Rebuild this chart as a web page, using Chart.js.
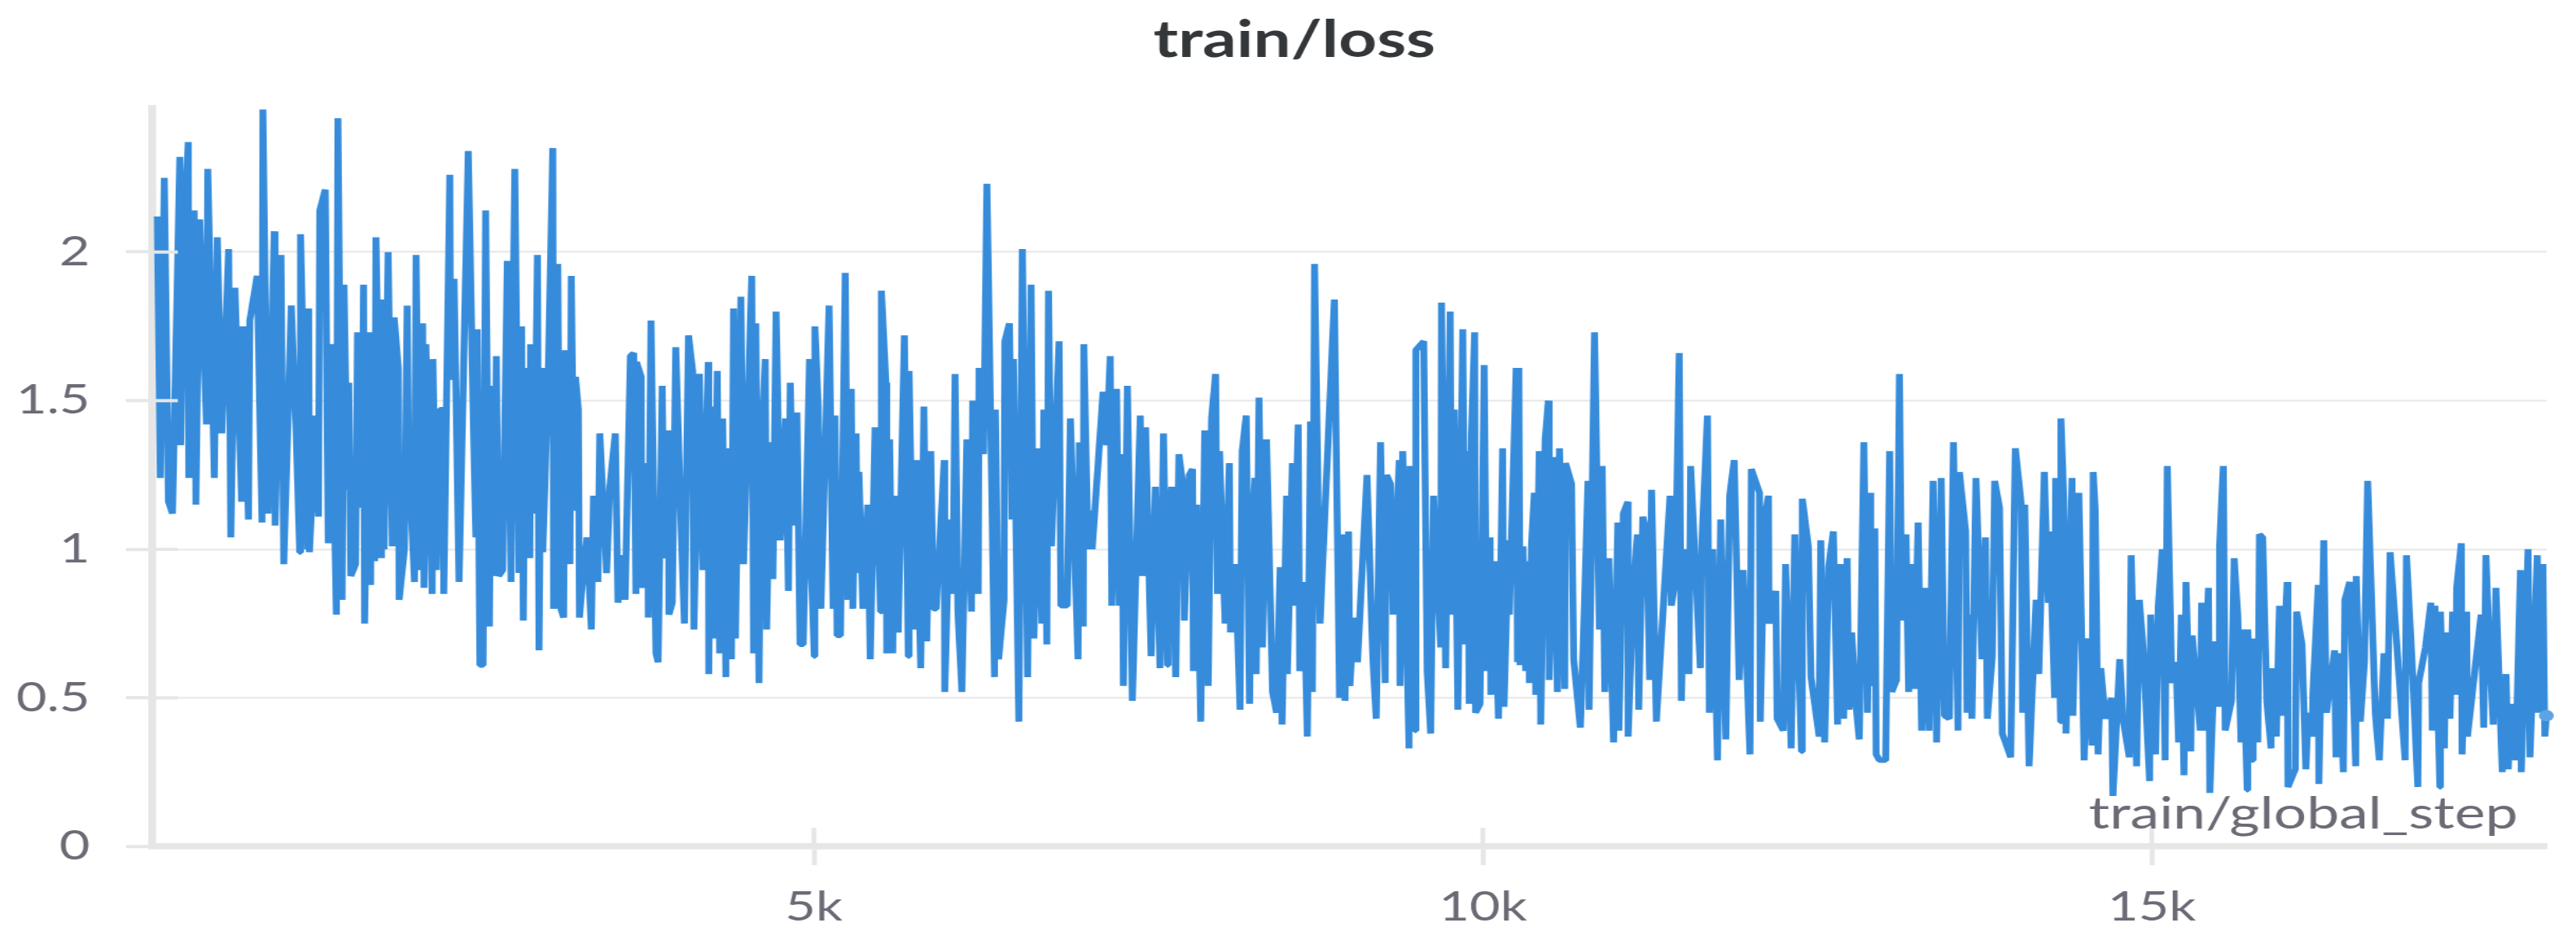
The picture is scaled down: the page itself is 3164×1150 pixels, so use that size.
<!DOCTYPE html>
<html>
<head>
<meta charset="utf-8">
<title>train/loss</title>
<script src="https://cdn.jsdelivr.net/npm/chart.js@4/dist/chart.umd.min.js"></script>
<style>
    html, body { margin: 0; padding: 0; background: #fff; overflow: hidden; }
</style>
</head>
<body>
<!-- the reference is a wide stretched screenshot, so the canvas is stretched the same way -->
<canvas id="lossChart" width="2434" height="1150" style="display:block;width:3164px;height:1150px"></canvas>
<script>
const steps = [
    92,114,144,175,205,260,266,303,323,327,367,380,408,459,469,518,540,574,625,641,672,722,733,773,783,838,874,881,919,966,972,1016,1037,1093,1128,1156,1162,1215,1223,1229,1276,1296,1306,1347,1369,1392,1430,1442,1473,1487,1513,1523,1538,1574,1588,1621,1633,1641,1675,1686,1696,1716,1726,1767,1773,1787,1817,1848,1862,1893,1899,1939,1959,1970,2014,2026,2051,2075,2085,2099,2146,2152,2178,2203,2229,2233,2278,2284,2310,2347,2416,2456,2473,2483,2503,2527,2546,2574,2588,
    2608,2626,2643,2673,2708,2736,2748,2764,2795,2815,2827,2841,2856,2876,2882,2908,2933,2945,2963,2973,3014,3048,3054,3085,3101,3129,3141,3176,3186,3206,3217,3239,3247,3277,3304,3336,3352,3385,3399,3450,3474,3515,3535,3567,3588,3628,3653,3669,3673,3709,3713,3758,3762,3782,3819,3835,3866,3880,3912,3916,3941,3967,4007,4032,4062,4093,4103,4143,4170,4210,4214,4231,4251,4277,4295,4318,4342,4346,4383,4399,4413,4454,4474,4535,4549,4565,4589,4606,4636,4646,4673,4693,4717,4748,4788,4809,4823,4845,4873,4896,4920,4967,4975,5003,5007,5032,5052,5113,5143,
    5157,5173,5198,5234,5254,5279,5291,5315,5325,5336,5366,5402,5421,5457,5498,5504,5538,5544,5565,5589,5599,5630,5676,5705,5711,5745,5765,5798,5822,5843,5873,5893,5914,5974,5978,6011,6039,6055,6076,6106,6143,6177,6187,6228,6234,6268,6293,6325,6350,6356,6380,6421,6427,6461,6481,6491,6532,6558,6597,6623,6644,6678,6704,6719,6741,6753,6775,6832,6846,6893,6917,6974,6984,7013,7017,7049,7063,7080,7161,7187,7215,7226,7262,7282,7303,7313,7343,7380,7439,7455,7479,7520,7552,7587,7613,7643,7647,7674,7704,
    7728,7759,7769,7805,7830,7836,7860,7891,7921,7947,7972,8002,8016,8032,8073,8105,8114,8150,8185,8201,8231,8256,8268,8296,8306,8327,8353,8383,8428,8458,8485,8499,8533,8539,8576,8584,8620,8631,8661,8688,8712,8726,8742,8783,8890,8929,8949,8969,8996,9006,9036,9063,9134,9178,9203,9235,9270,9280,9310,9330,9375,9381,9401,9448,9456,9493,9499,9558,9584,9610,9631,9685,9691,9722,9756,9766,9787,9813,9850,9868,9888,9898,9914,9939,9945,9979,10010,10030,10054,10060,10085,10117,10148,10158,10192,10198,10249,10259,
    10269,10279,10300,10320,10340,10348,10364,10385,10395,10421,10433,10466,10490,10496,10523,10557,10573,10612,10618,10663,10679,10729,10750,10786,10794,10835,10871,10892,10912,10942,10977,11009,11017,11050,11084,11086,11125,11155,11165,11196,11226,11247,11261,11297,11399,11409,11439,11468,11484,11510,11541,11553,11626,11638,11679,11693,11719,11754,11778,11816,11845,11879,11916,11946,11997,12007,12068,12074,12104,12135,12139,12190,12200,12246,12263,12305,12332,12382,12388,12433,12453,12514,12526,12555,12585,12620,12652,12670,12697,12723,12737,12757,12788,12814,
    12848,12875,12895,12899,12930,12940,12964,13011,13041,13057,13092,13114,13132,13163,13183,13199,13224,13254,13280,13301,13335,13366,13392,13426,13451,13487,13518,13552,13562,13609,13619,13641,13656,13686,13731,13757,13771,13808,13826,13862,13883,13946,13980,14025,14035,14051,14083,14136,14156,14197,14227,14238,14274,14282,14319,14321,14343,14359,14404,14410,14455,14495,14522,14554,14562,14578,14599,14619,14653,14700,14710,14761,14785,14832,14846,14887,14907,14937,14984,14992,15029,15049,15079,15100,15116,15150,15181,15201,15221,15241,15256,15292,15302,15363,
    15373,15389,15424,15434,15474,15505,15507,15535,15549,15596,15616,15643,15667,15677,15714,15718,15754,15758,15793,15805,15829,15860,15892,15896,15931,15955,15967,16012,16018,16073,16083,16123,16152,16170,16200,16204,16245,16249,16286,16306,16367,16377,16403,16432,16444,16480,16525,16529,16559,16590,16614,16671,16701,16736,16762,16782,16894,16904,16945,16989,16995,17046,17087,17097,17117,17154,17158,17188,17198,17229,17249,17273,17279,17314,17320,17354,17360,17462,17482,17498,17523,17553,17573,17620,17648,17665,17685,17721,17756,17762,17813,17827,17882,17888,17924,17938,17950
];
const loss = [
    2.12,1.24,2.25,1.16,1.12,2.32,1.35,2.19,2.37,1.24,2.14,1.15,2.11,1.42,2.28,1.24,2.05,1.39,2.01,1.04,1.88,1.16,1.75,1.10,1.77,1.92,1.09,2.48,1.12,2.07,1.08,1.99,0.95,1.82,1.41,0.99,2.06,1.00,1.81,0.99,1.45,1.11,2.14,2.21,1.02,1.69,0.78,2.45,0.83,1.89,1.20,1.56,0.91,0.95,1.73,1.14,1.89,0.75,1.73,0.88,1.63,0.96,2.05,0.97,1.84,1.00,2.00,1.01,1.78,1.61,0.83,1.00,1.82,1.33,0.89,1.99,0.93,1.76,0.87,1.69,0.85,1.64,0.93,1.47,1.47,0.85,2.26,1.57,1.91,0.89,2.34,1.38,1.04,1.74,0.61,0.61,2.14,0.74,1.55,
    0.91,1.65,0.91,0.93,1.97,0.89,1.68,2.28,0.92,1.75,0.76,1.47,1.61,0.97,1.69,1.12,1.99,0.66,1.61,0.99,1.59,2.35,0.80,1.96,0.81,0.77,1.67,0.95,1.92,1.13,1.58,1.47,0.77,0.93,1.04,0.73,1.18,0.89,1.39,0.92,1.21,1.39,0.82,0.98,0.83,1.65,1.66,0.85,1.63,1.58,0.87,1.29,0.77,1.77,0.65,0.62,1.55,0.97,1.40,0.78,0.82,1.68,1.07,0.75,1.72,1.60,0.73,1.59,0.93,1.63,0.58,1.48,0.70,1.60,0.65,1.44,0.57,1.34,0.63,1.81,0.70,1.85,0.95,1.92,0.65,1.76,0.55,1.33,1.64,0.73,1.36,0.90,1.80,1.03,1.44,0.86,1.56,1.08,1.46,0.68,0.68,1.64,1.00,0.64,1.75,1.48,0.80,1.82,0.80,
    1.45,0.71,0.71,1.93,0.83,1.54,0.80,1.39,0.92,1.26,0.80,1.15,0.63,1.41,0.79,1.87,1.56,0.65,1.37,0.65,1.18,0.72,1.72,0.64,1.60,0.73,1.30,0.60,1.48,0.69,1.33,0.80,0.80,1.30,0.52,1.10,0.85,1.59,0.79,0.52,1.37,0.79,1.50,0.85,1.61,1.32,2.23,1.32,0.57,1.47,0.63,0.83,1.70,1.76,1.10,1.64,0.42,2.01,0.57,1.89,0.70,1.34,0.75,1.47,0.68,1.87,1.01,1.70,0.81,0.81,1.44,0.63,1.36,0.74,1.69,1.00,1.13,1.00,1.53,1.35,1.65,0.81,1.54,0.81,1.32,0.54,1.55,0.49,1.45,0.91,1.41,0.64,1.21,0.60,1.39,0.61,1.04,1.21,0.57,
    1.32,1.21,0.76,1.25,1.27,0.59,1.15,0.42,1.40,0.54,1.44,1.59,0.85,1.33,0.75,1.29,0.72,0.95,0.46,1.33,1.45,0.48,1.01,1.24,0.58,1.51,0.67,1.37,0.52,0.45,0.94,0.41,1.18,0.58,1.29,0.81,1.42,0.59,0.89,0.37,1.43,0.52,1.96,0.75,1.84,0.50,1.05,0.49,1.06,0.54,0.77,0.62,1.25,0.63,0.43,1.36,0.55,1.25,1.22,0.78,1.30,0.54,1.33,0.33,1.28,0.39,1.67,1.70,0.59,0.38,1.18,0.67,1.83,0.60,1.80,0.78,1.47,0.46,1.74,0.68,1.33,0.48,1.38,1.73,0.45,0.48,1.62,0.59,1.04,0.51,0.96,0.43,1.34,0.47,1.03,0.78,1.61,0.62,
    1.61,0.61,1.01,0.59,0.96,0.55,1.02,1.19,0.51,1.33,0.41,1.37,1.50,0.56,1.31,0.52,1.34,0.53,1.29,1.22,0.63,0.40,0.67,1.23,0.46,1.73,0.73,1.28,0.52,0.97,0.35,1.09,0.39,1.12,1.16,0.37,0.87,1.05,0.46,1.11,1.05,0.56,1.20,0.42,1.18,0.81,0.90,1.66,0.49,1.00,0.58,1.28,0.60,1.03,1.45,0.45,1.00,0.29,1.10,0.36,1.18,1.30,0.56,0.93,0.31,1.27,1.19,0.42,1.10,1.18,0.75,0.86,0.43,0.39,0.95,0.33,1.05,0.32,1.17,1.01,0.57,0.37,1.03,0.35,0.94,1.06,0.41,0.95,0.43,0.97,0.46,0.72,0.48,0.36,
    1.36,0.45,1.19,0.54,1.07,0.31,0.29,0.29,1.33,0.52,0.56,1.59,0.76,1.05,0.52,0.95,0.53,1.09,0.39,0.87,0.39,1.23,0.35,1.24,0.44,0.43,1.36,0.39,1.26,1.06,0.45,0.78,0.43,1.24,0.63,1.04,0.43,0.64,1.23,1.14,0.38,0.30,1.34,1.15,0.45,1.15,0.27,0.83,0.58,1.26,0.82,1.06,0.50,1.24,0.42,1.44,1.16,0.38,1.24,0.44,1.19,0.29,0.70,0.34,1.26,1.13,0.31,0.60,0.43,0.50,0.17,0.63,0.43,0.30,0.98,0.27,0.83,0.66,0.22,0.78,0.31,0.81,1.00,0.29,1.28,0.55,0.62,0.35,0.78,0.24,0.89,0.32,0.71,0.39,
    0.82,0.39,0.87,0.18,0.69,0.47,1.01,1.28,0.39,0.49,0.97,0.78,0.35,0.73,0.19,0.73,0.29,0.70,0.35,1.05,1.04,0.49,0.33,0.60,0.37,0.81,0.44,0.89,0.20,0.26,0.79,0.68,0.26,0.45,0.37,0.51,0.88,0.21,1.03,0.45,0.66,0.30,0.65,0.25,0.83,0.89,0.27,0.91,0.42,0.62,1.23,0.45,0.29,0.65,0.43,0.99,0.29,0.98,0.63,0.20,0.55,0.67,0.82,0.39,0.81,0.20,0.79,0.33,0.72,0.43,0.79,0.51,0.87,1.02,0.31,0.79,0.37,0.78,0.40,0.98,0.68,0.41,0.87,0.25,0.58,0.26,0.48,0.29,0.93,0.25,1.00,0.30,0.98,0.45,0.95,0.37,0.44
];
const yTicks = [0, 0.5, 1, 1.5, 2];
const xTicks = [5000, 10000, 15000];
const xLabels = ['5k', '10k', '15k'];
const chartTitle = 'train/loss';
const xAxisName = 'train/global_step';

const axisGrey = '#e6e6e6';
const textGrey = '#6b6b76';
const lineBlue = '#368cdb';

// tick marks poke into the plot and sit on top of the line, x name sits inside the plot
const overlayPlugin = {
    id: 'overlay',
    afterLayout(chart) {
        // labels are clipped to the scale box, let them use the left padding too
        chart.scales.y.left = 0;
    },
    afterDatasetsDraw(chart) {
        const { ctx, scales: { x, y } } = chart;
        ctx.save();
        ctx.strokeStyle = axisGrey;
        ctx.lineWidth = 4;
        yTicks.forEach(v => {
            const py = y.getPixelForValue(v);
            ctx.beginPath();
            ctx.moveTo(y.right, py);
            ctx.lineTo(y.right + 24, py);
            ctx.stroke();
        });
        ctx.lineWidth = 4.6;
        xTicks.forEach(v => {
            const px = x.getPixelForValue(v);
            ctx.beginPath();
            ctx.moveTo(px, x.top);
            ctx.lineTo(px, x.top - 23);
            ctx.stroke();
        });
        ctx.font = '55px Lato';
        ctx.fillStyle = textGrey;
        ctx.textAlign = 'right';
        ctx.textBaseline = 'alphabetic';
        ctx.fillText(xAxisName, x.right - 27, x.top - 22);
        ctx.restore();
    }
};

new Chart(document.getElementById('lossChart'), {
    type: 'line',
    data: {
        datasets: [{
            label: chartTitle,
            data: steps.map((s, i) => ({ x: s, y: loss[i] })),
            borderColor: lineBlue,
            borderWidth: 6.5,
            borderJoinStyle: 'bevel',
            tension: 0,
            clip: false,
            pointRadius: c => c.dataIndex === steps.length - 1 ? 7 : 0,
            pointBackgroundColor: '#5ea4e4',
            pointBorderWidth: 0
        }]
    },
    options: {
        responsive: false,
        animation: false,
        devicePixelRatio: 1,
        parsing: false,
        normalized: true,
        // left padding also nudges the title, which is centred a bit right of the canvas middle
        layout: { padding: { left: 40, right: 28, top: 0, bottom: 0 } },
        plugins: {
            legend: { display: false },
            tooltip: { enabled: false },
            title: {
                display: true,
                text: chartTitle,
                color: '#33373a',
                font: { family: 'Lato', size: 63, weight: 'bold' },
                padding: { top: 12, bottom: 45 }
            }
        },
        scales: {
            x: {
                type: 'linear',
                min: 55,
                max: 17950,
                afterFit: s => { s.height = 110; },
                afterBuildTicks: s => { s.ticks = xTicks.map(v => ({ value: v })); },
                border: { color: axisGrey, width: 7.5 },
                grid: { drawOnChartArea: false, tickLength: 23, tickWidth: 4.6, tickColor: axisGrey },
                ticks: {
                    maxRotation: 0,
                    padding: 22,
                    color: textGrey,
                    font: { family: 'Lato', size: 50 },
                    callback: v => xLabels[xTicks.indexOf(v)]
                }
            },
            y: {
                min: 0,
                max: 2.485,
                afterFit: s => { s.width = 104; },
                afterBuildTicks: s => { s.ticks = yTicks.map(v => ({ value: v })); },
                border: { color: axisGrey, width: 7.5 },
                grid: { color: '#ebebeb', lineWidth: 2.4, tickLength: 25, tickWidth: 4, tickColor: axisGrey },
                ticks: {
                    padding: 34,
                    color: textGrey,
                    font: { family: 'Lato', size: 50 },
                    callback: v => String(v)
                }
            }
        }
    },
    plugins: [overlayPlugin]
});
</script>
</body>
</html>
